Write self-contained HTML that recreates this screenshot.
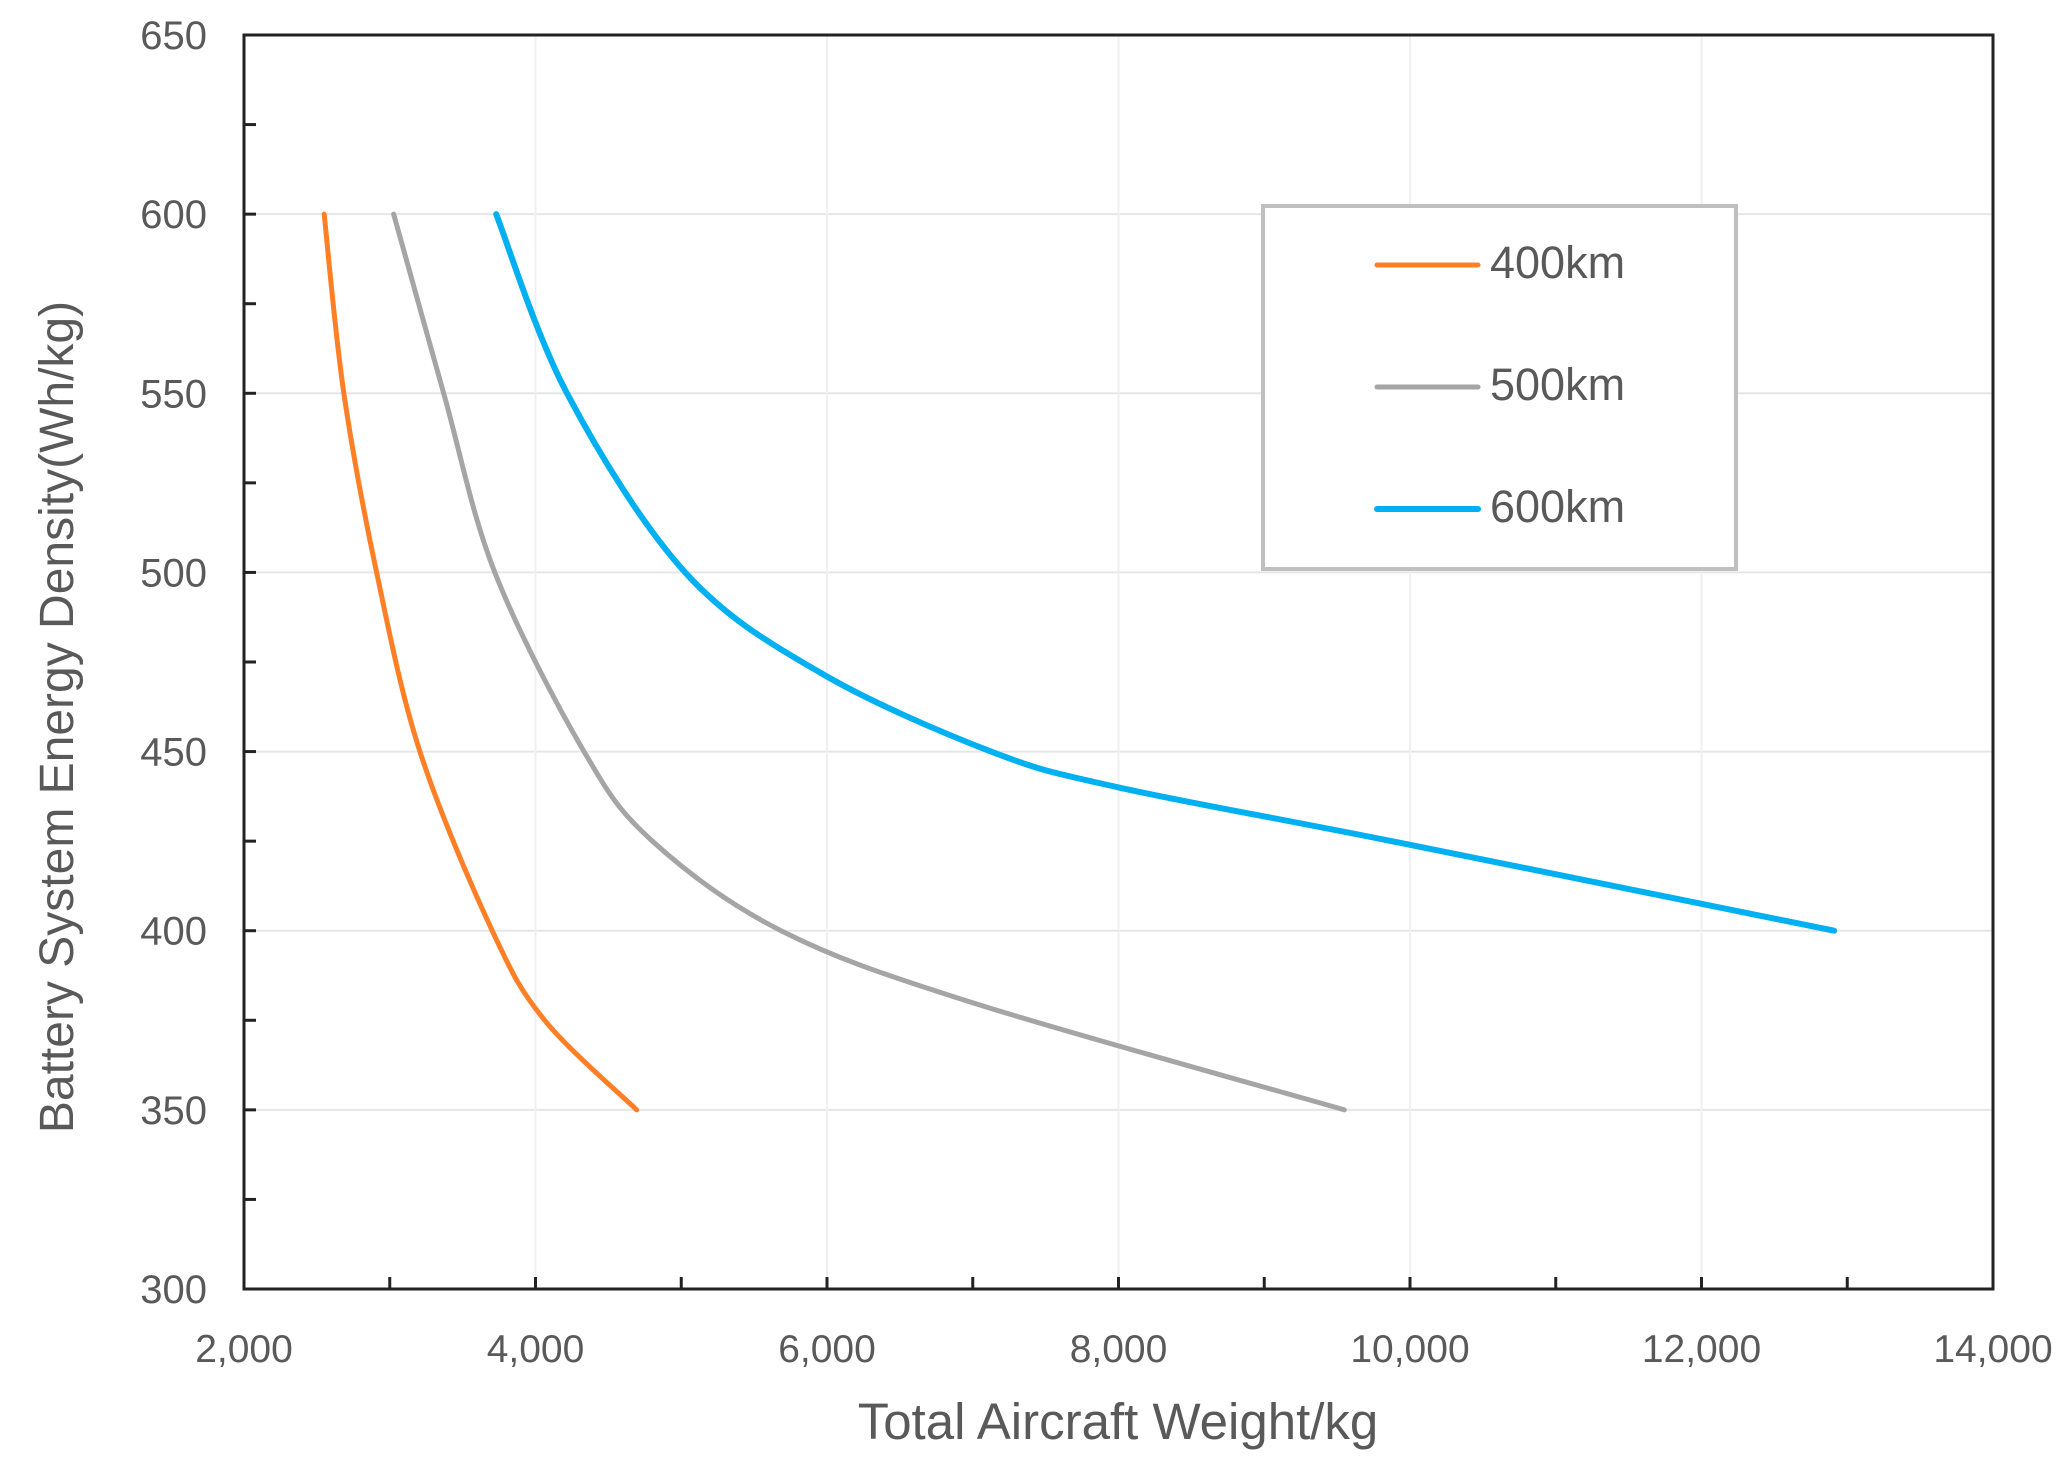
<!DOCTYPE html>
<html><head><meta charset="utf-8"><style>
html,body{margin:0;padding:0;background:#fff;}
svg text{font-family:"Liberation Sans","DejaVu Sans",sans-serif;fill:#595959;}
</style></head><body>
<svg id="chart" width="2059" height="1459" viewBox="0 0 2059 1459" xmlns="http://www.w3.org/2000/svg">
<g id="grid"></g>
<g id="series"></g>
<g id="axes"></g>
<text x="1118" y="1439" text-anchor="middle" font-size="51">Total Aircraft Weight/kg</text>
<text transform="translate(73,717) rotate(-90)" text-anchor="middle" font-size="48">Battery System Energy Density(Wh/kg)</text>
<g>
<rect x="1263" y="206" width="473" height="363" fill="#fff" stroke="#bfbfbf" stroke-width="4"/>
<line x1="1377" y1="265" x2="1478" y2="265" stroke="#ff7f27" stroke-width="5" stroke-linecap="round"/>
<text x="1490" y="266" font-size="45" dominant-baseline="middle">400km</text>
<line x1="1377" y1="387" x2="1478" y2="387" stroke="#a5a5a5" stroke-width="5" stroke-linecap="round"/>
<text x="1490" y="388" font-size="45" dominant-baseline="middle">500km</text>
<line x1="1377" y1="509" x2="1478" y2="509" stroke="#00b0f0" stroke-width="6" stroke-linecap="round"/>
<text x="1490" y="510" font-size="45" dominant-baseline="middle">600km</text>
</g>
</svg>
<script>
const xTicks=[2000,4000,6000,8000,10000,12000,14000];
const yTicks=[300,350,400,450,500,550,600,650];
const s400x=[2550,2685,2910,3207,3703,4063,4694];
const s400y=[600,550,500,450,400,375,350];
const s500x=[3027,3370,3721,4333,4802,5685,6991,9550];
const s500y=[600,550,500,450,425,400,380,350];
const s600x=[3730,4216,5027,5955,7126,8000,9874,12910];
const s600y=[600,550,500,472,450,440,425,400];
const L=244,R=1993,T=35,B=1289,X0=2000,X1=14000,Y0=300,Y1=650;
const sx=v=>L+(v-X0)/(X1-X0)*(R-L);
const sy=v=>B-(v-Y0)/(Y1-Y0)*(B-T);
const NS='http://www.w3.org/2000/svg';
function mk(tag,attrs,parent){const e=document.createElementNS(NS,tag);for(const k in attrs)e.setAttribute(k,attrs[k]);parent.appendChild(e);return e;}
const grid=document.getElementById('grid'),axes=document.getElementById('axes'),ser=document.getElementById('series');
yTicks.forEach(v=>{
 const g=mk('line',{x1:L,x2:R,y1:sy(v),y2:sy(v),stroke:'#e6e6e6','stroke-width':2},grid);
 
 
 const t=mk('text',{x:207,y:sy(v)+14,'text-anchor':'end','font-size':40},axes);
 t.textContent=v;
 
 
});
for(let v=Y0;v<=Y1;v+=25){const tk=mk('line',{x1:L,x2:L+12,y1:sy(v),y2:sy(v),stroke:'#222','stroke-width':3},axes);
 
 }
xTicks.forEach(v=>{
 const g=mk('line',{x1:sx(v),x2:sx(v),y1:T,y2:B,stroke:'#f0f0f0','stroke-width':2},grid);
 
 
 const t=mk('text',{x:sx(v),y:1362,'text-anchor':'middle','font-size':39},axes);
 t.textContent=v.toLocaleString('en-US');
 
 
});
for(let v=X0;v<=X1;v+=1000){const tk=mk('line',{x1:sx(v),x2:sx(v),y1:B,y2:B-12,stroke:'#222','stroke-width':3},axes);
 
 }
const frame=mk('rect',{x:L,y:T,width:R-L,height:B-T,fill:'none',stroke:'#222','stroke-width':3},axes);


function path(xs,ys){const p=xs.map((x,i)=>[sx(x),sy(ys[i])]);let d='M'+p[0][0]+','+p[0][1];
 for(let i=0;i<p.length-1;i++){const p0=p[i-1]||p[i],p1=p[i],p2=p[i+1],p3=p[i+2]||p2;
  d+=' C'+(p1[0]+(p2[0]-p0[0])/6)+','+(p1[1]+(p2[1]-p0[1])/6)+' '+(p2[0]-(p3[0]-p1[0])/6)+','+(p2[1]-(p3[1]-p1[1])/6)+' '+p2[0]+','+p2[1];}
 return d;}
[[s400x,s400y,'#ff7f27',5,'line-400km'],[s500x,s500y,'#a5a5a5',5,'line-500km'],[s600x,s600y,'#00b0f0',6,'line-600km']].forEach(s=>{
 const e=mk('path',{d:path(s[0],s[1]),fill:'none',stroke:s[2],'stroke-width':s[3],'stroke-linecap':'round','stroke-linejoin':'round'},ser);
 
 
});
</script>
</body></html>
